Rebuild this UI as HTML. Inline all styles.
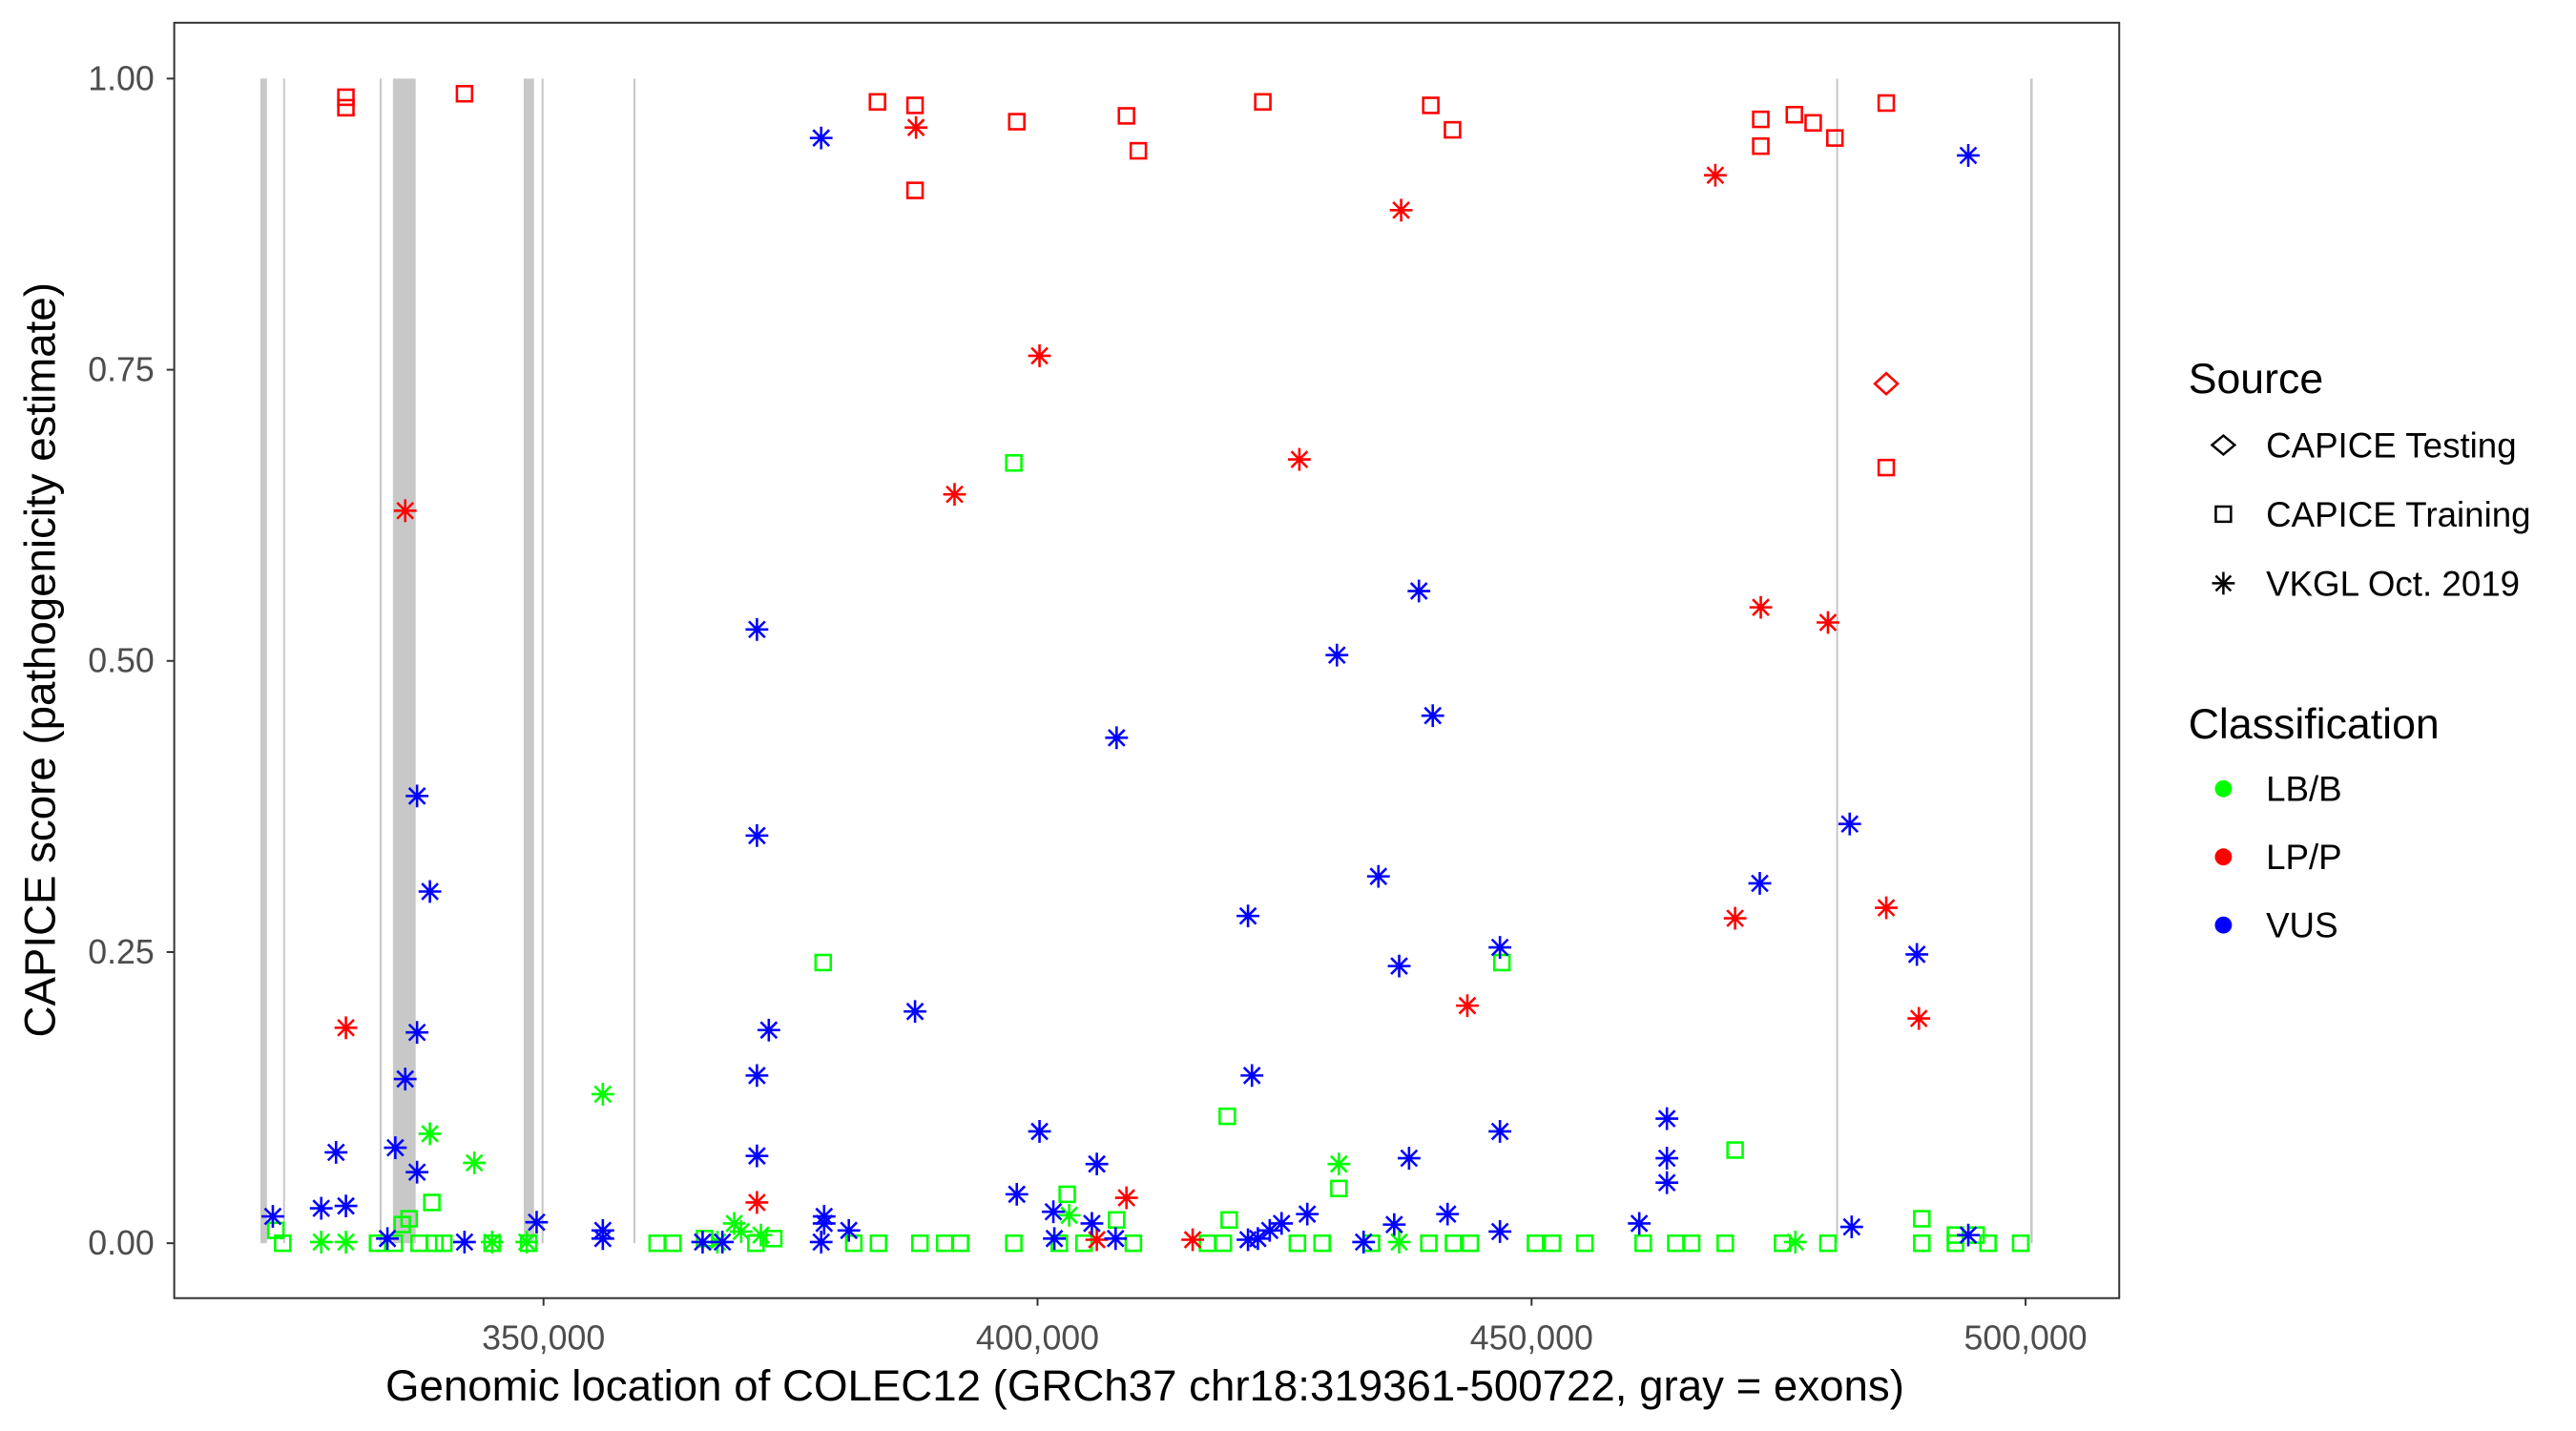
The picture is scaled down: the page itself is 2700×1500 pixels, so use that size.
<!DOCTYPE html>
<html><head><meta charset="utf-8">
<style>
html,body{margin:0;padding:0;background:#fff;}
svg{display:block;font-family:"Liberation Sans",Arial,sans-serif;}
</style></head>
<body>
<svg id="chart" width="2700" height="1500" viewBox="0 0 2700 1500" xmlns="http://www.w3.org/2000/svg">
<rect width="2700" height="1500" fill="#fff"/>
<g transform="scale(0.99251)">
<g id="exons"></g>
<g id="points"></g>
<rect x="184" y="24" width="2054" height="1347" fill="none" stroke="#333" stroke-width="2"/>
<g id="yaxis"></g>
<g id="xaxis"></g>
<text x="1209" y="1479" font-size="46" text-anchor="middle" fill="#000">Genomic location of COLEC12 (GRCh37 chr18:319361-500722, gray = exons)</text>
<text transform="translate(58,697) rotate(-90)" font-size="46" text-anchor="middle" fill="#000">CAPICE score (pathogenicity estimate)</text>
<g>
<text x="2311" y="415" font-size="45">Source</text>
<path d="M2336,470 l12,-10 l12,10 l-12,10z" fill="none" stroke="#000" stroke-width="2.5"/>
<text x="2393" y="483" font-size="37">CAPICE Testing</text>
<rect x="2340" y="535" width="16" height="16" fill="none" stroke="#000" stroke-width="2.5"/>
<text x="2393" y="556" font-size="37">CAPICE Training</text>
<g stroke="#000" stroke-width="2.5"><line x1="2336" y1="616" x2="2360" y2="616"/><line x1="2348" y1="604" x2="2348" y2="628"/><line x1="2340" y1="608" x2="2356" y2="624"/><line x1="2340" y1="624" x2="2356" y2="608"/></g>
<text x="2393" y="629" font-size="37">VKGL Oct. 2019</text>
<text x="2311" y="780" font-size="45">Classification</text>
<circle cx="2348" cy="833" r="9" fill="#00ff00"/>
<text x="2393" y="846" font-size="37">LB/B</text>
<circle cx="2348" cy="905" r="9" fill="#ff0000"/>
<text x="2393" y="918" font-size="37">LP/P</text>
<circle cx="2348" cy="977" r="9" fill="#0000ff"/>
<text x="2393" y="990" font-size="37">VUS</text>
</g>
</g>
</svg>
<script>
// ---- data (positions in kb, scores 0..1) ----
const exonStart = [321.34, 323.64, 333.41, 334.76, 347.99, 349.80, 359.10, 480.83, 500.48];
const exonEnd   = [322.01, 323.84, 333.61, 337.06, 349.04, 350.00, 359.30, 481.03, 500.72];
const xTicks = [350, 400, 450, 500];
const xTickLabels = ["350,000", "400,000", "450,000", "500,000"];
const yTicks = [0, 0.25, 0.5, 0.75, 1];
const yTickLabels = ["0.00", "0.25", "0.50", "0.75", "1.00"];

const redTrainPos = [330.0,330.0,342.0,383.8,387.6,387.6,397.9,409.0,410.2,422.8,439.8,442.0,473.2,473.2,476.6,478.5,480.7,485.9,485.9];
const redTrainScore = [0.984,0.975,0.987,0.980,0.977,0.904,0.963,0.968,0.938,0.980,0.977,0.956,0.965,0.942,0.969,0.962,0.949,0.979,0.666];
const redTestPos = [485.9];
const redTestScore = [0.738];
const redVkglPos = [387.7,336.0,330.0,400.2,391.6,436.8,468.6,426.5,473.2,480.0,443.5,470.6,485.9,489.2,371.6,409.0,415.7,406.0];
const redVkglScore = [0.958,0.629,0.185,0.762,0.643,0.887,0.917,0.673,0.546,0.533,0.204,0.279,0.288,0.193,0.035,0.039,0.003,0.003];
const blueVkglPos = [378.1,494.2,438.6,371.6,430.3,440.0,408.0,337.2,338.5,371.6,482.2,434.5,473.1,421.3,436.6,446.8,489.0,387.6,372.8,337.2,421.7,371.6,336.0,463.7,400.2,446.8,329.0,335.0,371.6,437.6,463.7,406.0,337.2,463.7,330.0,327.5,322.6,397.9,401.6,427.3,441.5,349.3,378.4,378.4,380.9,460.9,482.4,446.8,356.0,356.0,424.7,423.5,334.2,342.0,366.1,368.1,378.1,401.7,405.5,407.9,421.3,422.3,433.0,436.1,494.2];
const blueVkglScore = [0.949,0.934,0.560,0.527,0.505,0.453,0.434,0.384,0.302,0.350,0.360,0.315,0.309,0.281,0.238,0.254,0.248,0.199,0.183,0.181,0.144,0.144,0.141,0.107,0.096,0.096,0.078,0.082,0.075,0.073,0.073,0.068,0.061,0.052,0.032,0.030,0.023,0.042,0.027,0.025,0.025,0.018,0.023,0.017,0.011,0.017,0.014,0.010,0.011,0.004,0.017,0.011,0.004,0.001,0.001,0.001,0.001,0.004,0.017,0.004,0.003,0.004,0.001,0.016,0.007];
const greenVkglPos = [356.0,338.5,343.0,430.5,369.3,370.0,372.0,403.2,367.6,436.6,476.7,344.8,348.3,330.0,327.5];
const greenVkglScore = [0.128,0.094,0.069,0.068,0.017,0.010,0.007,0.024,0.001,0.001,0.001,0.001,0.001,0.001,0.001];
const greenTrainPos = [397.6,378.3,447.0,419.2,470.6,430.5,403.0,338.7,336.4,335.7,489.5,419.4,408.0,322.9,492.9,495.0,366.3,373.3,
 323.6,333.2,334.9,337.4,339.0,339.9,344.8,348.5,361.5,363.1,371.5,381.4,383.9,388.1,390.6,392.2,397.6,402.2,404.7,409.7,417.2,418.8,426.3,428.8,433.8,439.6,442.1,443.8,450.4,452.1,455.4,461.3,464.6,466.2,469.6,475.4,480.0,489.5,492.9,496.2,499.5];
const greenTrainScore = [0.670,0.241,0.241,0.109,0.080,0.047,0.042,0.035,0.021,0.016,0.021,0.020,0.020,0.011,0.007,0.007,0.004,0.004,
 0,0,0,0,0,0,0,0,0,0,0,0,0,0,0,0,0,0,0,0,0,0,0,0,0,0,0,0,0,0,0,0,0,0,0,0,0,0,0,0,0];

// ---- scales ----
const X0 = 574, PXKB = 10.434;
function xs(kb){ return X0 + (kb - 350) * PXKB; }
const Y0 = 1313, Y1 = 83;
function ys(v){ return Y0 + (Y1 - Y0) * v; }
const NS = "http://www.w3.org/2000/svg";
function mk(tag, attrs, parent){
  const e = document.createElementNS(NS, tag);
  for (const k in attrs) e.setAttribute(k, attrs[k]);
  parent.appendChild(e); return e;
}

const gEx = document.getElementById('exons');
for (let i = 0; i < exonStart.length; i++){
  const x1 = xs(exonStart[i]), x2 = xs(exonEnd[i]);
  const r = mk('rect', {x: x1, y: ys(1), width: Math.max(1.5, x2 - x1), height: ys(0) - ys(1), fill: '#c8c8c8'}, gEx);
  
  
}

const gY = document.getElementById('yaxis');
for (let i = 0; i < yTicks.length; i++){
  const y = ys(yTicks[i]);
  const t = mk('line', {x1: 176, x2: 184, y1: y, y2: y, stroke: '#333', 'stroke-width': 2}, gY);
  
  
  const l = mk('text', {x: 163, y: y + 12, 'font-size': 36, 'text-anchor': 'end', fill: '#4d4d4d'}, gY);
  
  
  l.textContent = yTickLabels[i];
}
const gX = document.getElementById('xaxis');
for (let i = 0; i < xTicks.length; i++){
  const x = xs(xTicks[i]);
  const t = mk('line', {x1: x, x2: x, y1: 1371, y2: 1379, stroke: '#333', 'stroke-width': 2}, gX);
  
  
  const l = mk('text', {x: x, y: 1425, 'font-size': 36, 'text-anchor': 'middle', fill: '#4d4d4d'}, gX);
  
  
  l.textContent = xTickLabels[i];
}

const gP = document.getElementById('points');
function square(x, y, c){
  const e = mk('rect', {x: x - 8, y: y - 8, width: 16, height: 16, fill: 'none', stroke: c, 'stroke-width': 2.6}, gP);
  
  
}
function diamond(x, y, c){
  const e = mk('path', {d: `M${x-12},${y} L${x},${y-11} L${x+12},${y} L${x},${y+11}Z`, fill: 'none', stroke: c, 'stroke-width': 2.6}, gP);
  
  
}
function star(x, y, c){
  const s = 12, d = 8.5;
  const e = mk('path', {d: `M${x-s},${y}H${x+s}M${x},${y-s}V${y+s}M${x-d},${y-d}L${x+d},${y+d}M${x-d},${y+d}L${x+d},${y-d}`, fill: 'none', stroke: c, 'stroke-width': 2.6}, gP);
  
  
}
const GREEN = '#00ff00', RED = '#ff0000', BLUE = '#0000ff';
greenTrainPos.forEach((p, i) => square(xs(p), ys(greenTrainScore[i]), GREEN));
greenVkglPos.forEach((p, i) => star(xs(p), ys(greenVkglScore[i]), GREEN));
redTrainPos.forEach((p, i) => square(xs(p), ys(redTrainScore[i]), RED));
redTestPos.forEach((p, i) => diamond(xs(p), ys(redTestScore[i]), RED));
redVkglPos.forEach((p, i) => star(xs(p), ys(redVkglScore[i]), RED));
blueVkglPos.forEach((p, i) => star(xs(p), ys(blueVkglScore[i]), BLUE));
</script>
</body></html>
